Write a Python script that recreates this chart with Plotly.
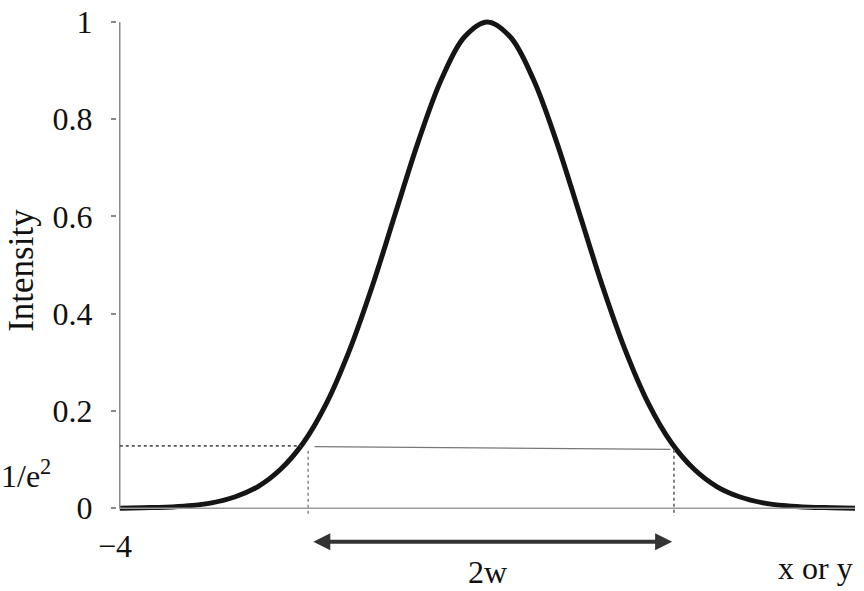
import plotly.graph_objects as go

# Gaussian beam profile
x_vals = [-4, -3.75, -3.5, -3.25, -3, -2.75, -2.5, -2.25, -2, -1.75, -1.5, -1.25, -1,
          -0.75, -0.5, -0.25, 0, 0.25, 0.5, 0.75, 1, 1.25, 1.5, 1.75, 2, 2.25, 2.5,
          2.75, 3, 3.25, 3.5, 3.75, 4]
intensity = [0.0, 0.001, 0.002, 0.005, 0.011, 0.023, 0.044, 0.080, 0.135, 0.216, 0.325,
             0.458, 0.607, 0.755, 0.882, 0.969, 1.0, 0.969, 0.882, 0.755, 0.607, 0.458,
             0.325, 0.216, 0.135, 0.080, 0.044, 0.023, 0.011, 0.005, 0.002, 0.001, 0.0]

y_ticks = [0, 0.2, 0.4, 0.6, 0.8, 1]
y_tick_text = ["0", "0.2", "0.4", "0.6", "0.8", "1"]

# 1/e^2 level and beam edges
level_e2 = 0.128
level_e2_right = 0.121
edge_left = -1.95
edge_right = 2.03
arrow_left = -1.91
arrow_right = 2.01
x_min, x_max = -4, 4

FONT = "Liberation Serif, Times New Roman, serif"

W, H = 864, 591
L, R, T, B = 117.2, 9.0, 7.0, 4.6
PW, PH = W - L - R, H - T - B


def px(xp):
    return (xp - L) / PW


def py(yp):
    return (H - B - yp) / PH


fig = go.Figure()

fig.add_trace(go.Scatter(
    x=x_vals, y=intensity, mode="lines", line=dict(color="#151515", width=5, shape="spline"),
    hoverinfo="skip", showlegend=False))

shapes = [
    dict(type="line", xref="x", yref="y", x0=x_min, x1=x_min, y0=0, y1=1,
         line=dict(color="#8a8a8a", width=1.5)),
    dict(type="line", xref="x", yref="y", x0=x_min, x1=x_max, y0=0, y1=0,
         line=dict(color="#9a9a9a", width=1.5)),
    dict(type="line", xref="x", yref="y", x0=x_min, x1=-2.03, y0=level_e2, y1=level_e2,
         line=dict(color="#555555", width=1.8, dash="3px,3px")),
    dict(type="line", xref="x", yref="y", x0=-1.88, x1=1.99, y0=0.1265, y1=level_e2_right,
         line=dict(color="#777777", width=1.2)),
    dict(type="line", xref="x", yref="y", x0=edge_left, x1=edge_left, y0=0.118, y1=-0.014,
         line=dict(color="#888888", width=1.5, dash="dot")),
    dict(type="line", xref="x", yref="y", x0=edge_right, x1=edge_right, y0=0.12, y1=-0.016,
         line=dict(color="#777777", width=1.8, dash="dot")),
]

annotations = [
    dict(x=arrow_right, y=-0.069, ax=arrow_left, ay=-0.069, xref="x", yref="y",
         axref="x", ayref="y", text="", showarrow=True, arrowhead=2, arrowside="end+start",
         arrowsize=0.85, arrowwidth=4, arrowcolor="#333333", standoff=0, startstandoff=0),
    dict(x=0.0, y=-0.132, xref="x", yref="y", text="2w", showarrow=False,
         font=dict(family=FONT, size=32, color="#111")),
    dict(x=3.57, y=-0.122, xref="x", yref="y", text="x or y", showarrow=False,
         font=dict(family=FONT, size=32, color="#111")),
    dict(xref="paper", yref="paper", x=px(115), y=py(546), xanchor="center", yanchor="middle",
         text="\u22124", showarrow=False, font=dict(family=FONT, size=32, color="#111")),
    dict(xref="paper", yref="paper", x=px(53), y=py(474), xanchor="right", yanchor="middle",
         text="1/e<sup>2</sup>", showarrow=False, font=dict(family=FONT, size=32, color="#111")),
    dict(xref="paper", yref="paper", x=px(21), y=py(268), xanchor="center", yanchor="middle",
         text="Intensity", showarrow=False, textangle=-90,
         font=dict(family=FONT, size=35, color="#111")),
]

fig.update_layout(
    width=W, height=H,
    margin=dict(l=L, r=R, t=T, b=B, pad=0),
    paper_bgcolor="white", plot_bgcolor="white",
    shapes=shapes, annotations=annotations,
    xaxis=dict(range=[-4.03, 4.0], showgrid=False, zeroline=False, showticklabels=False,
               showline=False, ticks=""),
    yaxis=dict(range=[-0.16, 1.0225], showgrid=False, zeroline=False, showline=False,
               tickvals=y_ticks, ticktext=y_tick_text, ticks="outside", ticklen=5,
               tickcolor="#888888", tickwidth=1.5, ticklabelstandoff=12,
               tickfont=dict(family=FONT, size=32, color="#111")),
    showlegend=False,
)

fig.write_html("out.html", config={"displayModeBar": False},
               post_script="document.body.style.margin='0';document.body.style.overflow='hidden';")
